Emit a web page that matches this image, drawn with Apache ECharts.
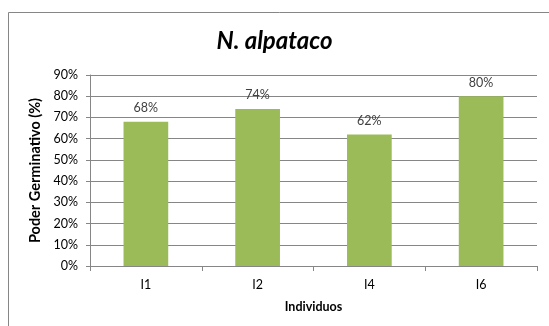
<!DOCTYPE html>
<html><head><meta charset="utf-8">
<script src="https://cdn.jsdelivr.net/npm/echarts@6/dist/echarts.min.js"></script>
<style>html,body{margin:0;padding:0;background:#fff}#c{width:549px;height:326px}</style>
</head><body><div id="c"></div>
<script>
const titleText = "N. alpataco";
const categories = ["I1", "I2", "I4", "I6"];
const values = [68, 74, 62, 80];
const yTicks = [0, 10, 20, 30, 40, 50, 60, 70, 80, 90];
const yAxisName = "Poder Germinativo (%)";
const xAxisName = "Individuos";

const font = "Lato, 'Open Sans', sans-serif";
const chart = echarts.init(document.getElementById('c'));
chart.setOption({
  animation: false,
  graphic: [{
    type: 'rect', shape: { x: 8.5, y: 12.5, width: 600, height: 400 },
    style: { fill: 'none', stroke: '#868686', lineWidth: 1 }, silent: true
  }],
  title: {
    text: titleText, left: 'center', top: 24,
    textStyle: { fontFamily: font, fontSize: 24, fontWeight: 'bold', fontStyle: 'italic', color: '#000' }
  },
  grid: { left: 90, right: 12, top: 75, bottom: 60 },
  xAxis: {
    type: 'category', data: categories,
    name: xAxisName, nameLocation: 'middle', nameGap: 34,
    nameTextStyle: { fontFamily: font, fontSize: 12.5, fontWeight: 'bold', color: '#000' },
    axisLine: { lineStyle: { color: '#868686' } },
    axisTick: { show: true, length: 5, lineStyle: { color: '#868686' } },
    axisLabel: { fontFamily: font, fontSize: 12.5, color: '#000', margin: 12 }
  },
  yAxis: {
    type: 'value', min: yTicks[0], max: yTicks[yTicks.length - 1], interval: 10,
    name: yAxisName, nameLocation: 'middle', nameGap: 42, nameRotate: 90,
    nameTextStyle: { fontFamily: font, fontSize: 14.5, fontWeight: 'bold', color: '#000' },
    axisLine: { show: true, lineStyle: { color: '#868686' } },
    axisTick: { show: true, length: 4, lineStyle: { color: '#868686' } },
    axisLabel: { fontFamily: font, fontSize: 12.5, color: '#000', margin: 12, formatter: v => v + '%' },
    splitLine: { lineStyle: { color: '#868686' } }
  },
  series: [{
    type: 'bar', data: values, barWidth: '40%',
    itemStyle: { color: '#9BBB59' },
    label: { show: true, position: 'top', distance: 7, fontFamily: font, fontSize: 12.5, color: '#404040', formatter: p => p.value + '%' }
  }]
});
</script></body></html>
